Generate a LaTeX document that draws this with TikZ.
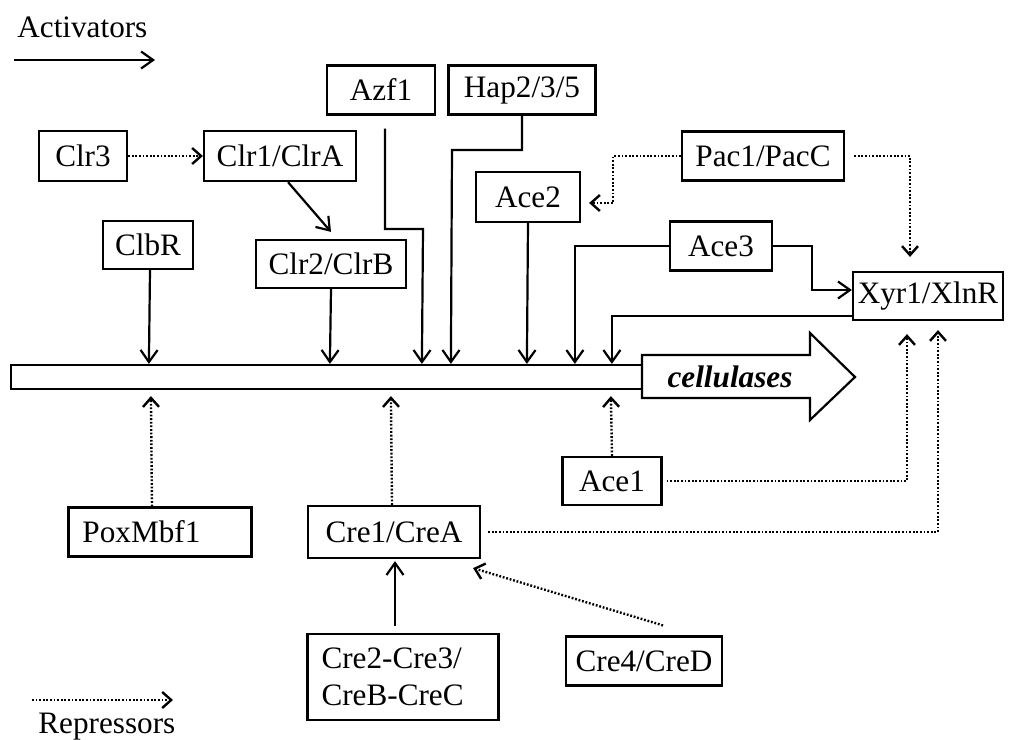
\documentclass[tikz,border=0pt]{standalone}
\usepackage{fontspec}
\setmainfont{Liberation Serif}
\usetikzlibrary{arrows.meta,calc}
\tikzset{
  txt/.style={font=\fontsize{15.6}{18.5}\selectfont},
  box/.style={txt, draw, line width=1.1pt, inner sep=0pt},
  act/.style={line width=1.1pt, -{Straight Barb[length=6pt,width=8.5pt]}},
  rep/.style={line width=1.2pt, dash pattern=on 0.9pt off 0.9pt, -{Straight Barb[length=4.5pt,width=8pt]}},
}
\newcommand\mybx[6]{\node[box,minimum width=#4*0.5pt,minimum height=#5*0.5pt] (#1) at (#2,#3) {#6};}
\begin{document}
\begin{tikzpicture}[x=0.5pt,y=-0.5pt]
\useasboundingbox (0,0) rectangle (1009,740);
% legend
\node[txt, anchor=base west, inner sep=0pt] (lact) at (17,37) {Activators};
\coordinate (la1) at (14,60); \coordinate (la2) at (155,60);
\draw[act] (la1) -- (la2);
\coordinate (lr1) at (32,700); \coordinate (lr2) at (173,700);
\draw[rep] (lr1) -- (lr2);
\node[txt, anchor=base west, inner sep=0pt] (lrep) at (38,733) {Repressors};
% boxes
\mybx{clr3}{83}{156}{88}{50}{Clr3}
\mybx{clr1}{280}{156}{152}{50}{Clr1/ClrA}
\mybx{azf}{381}{90}{108}{49}{Azf1}
\mybx{hap}{522}{90}{147}{49}{Hap2/3/5}
\mybx{pac}{763}{156}{162}{49}{Pac1/PacC}
\mybx{ace2}{528}{197}{104}{50}{Ace2}
\mybx{ace3}{721}{246}{102}{49}{Ace3}
\mybx{xyr}{928}{296}{150}{48}{Xyr1/XlnR}
\mybx{clbr}{148}{245}{90}{48}{ClbR}
\mybx{clr2}{331}{264}{150}{48}{Clr2/ClrB}
\mybx{ace1}{612}{481}{99}{48}{Ace1}
\node[box, inner xsep=7pt, text width=77.5pt, align=left, minimum height=24.5pt] (pox) at (160,532) {PoxMbf1};
\mybx{cre1}{394}{532}{172}{52}{Cre1/CreA}
\node[box, inner xsep=7pt, text width=81.5pt, align=left, minimum height=43pt] (cre2) at (403,677) {Cre2-Cre3/\\CreB-CreC};
\mybx{cre4}{644}{661}{156}{49}{Cre4/CreD}
% gene bar and big arrow
\node[draw, line width=1.1pt, inner sep=0pt, minimum width=316pt, minimum height=12pt] (bar) at (327,377) {};
\draw[line width=1.1pt, fill=white] (642,355) -- (810,355) -- (810,333) -- (855,377) -- (810,420) -- (810,398) -- (642,398) -- cycle;
\node[txt, font=\fontsize{15.6}{18.5}\selectfont\bfseries\itshape] (cell) at (730,377) {cellulases};
% activators
\draw[rep] (clr3) -- (clr1);
\draw[act] ([xshift=4pt]clr1.south) -- ([yshift=3.5pt]clr2.north);
\draw[act] ([xshift=1pt]clbr.south) -- ([xshift=69.5pt]bar.north west);
\draw[act] (clr2.south) -- ([xshift=160pt]bar.north west);
\draw[act] ([shift={(2pt,-6.5pt)}]azf.south) -- (385,229) -- (423,229) -- ([xshift=206pt]bar.north west);
\draw[act] (hap.south) -- (522,150) -- (452,150) -- ([xshift=220.5pt]bar.north west);
\draw[act] (ace2.south) -- ([xshift=258.5pt]bar.north west);
\draw[act] (ace3.west) -| ([xshift=282.5pt]bar.north west);
\draw[act] ([yshift=-10pt]xyr.west) -| ([xshift=301pt]bar.north west);
\draw[act] (ace3.east) -- (812,246) |- ([yshift=3pt]xyr.west);
% repressors
\draw[rep] (pac.west) -| (613,203) -- ([shift={(4pt,-3pt)}]ace2.east);
\draw[rep] ([xshift=4.5pt]pac.east) -| ([shift={(-9pt,7pt)}]xyr.north);
\draw[rep] ([xshift=-4pt]pox.north) -- ([shift={(70.5pt,-3pt)}]bar.south west);
\draw[rep] ([xshift=-1pt]cre1.north) -- ([shift={(190.5pt,-3pt)}]bar.south west);
\draw[rep] (ace1.north) -- ([shift={(300.5pt,-3pt)}]bar.south west);
\draw[rep] ([xshift=2pt]ace1.east) -| ([shift={(-10.5pt,-6.5pt)}]xyr.south);
\draw[rep] ([xshift=3.5pt]cre1.east) -| ([shift={(5pt,-4.5pt)}]xyr.south);
\draw[act] ([shift={(-4pt,3.5pt)}]cre2.north) -- ([shift={(0.5pt,-1pt)}]cre1.south);
\draw[rep] ([shift={(9.5pt,5pt)}]cre4.north) -- ([shift={(-4pt,-4.5pt)}]cre1.south east);
\end{tikzpicture}
\end{document}
